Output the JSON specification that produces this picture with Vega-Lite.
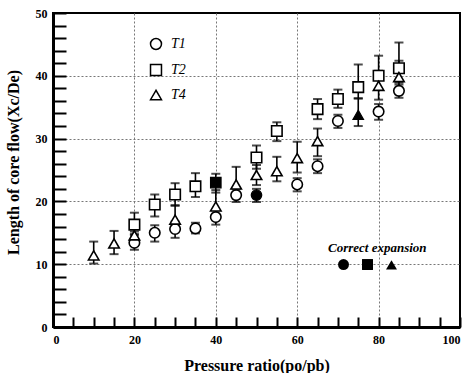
{
  "$schema": "https://vega.github.io/schema/vega-lite/v6.json",
  "autosize": "none",
  "width": 407,
  "height": 314,
  "padding": {"left": 53, "top": 13, "right": 7, "bottom": 46},
  "background": "white",
  "config": {
    "view": {"stroke": "black", "strokeWidth": 2},
    "font": "Liberation Serif",
    "axis": {
      "labelFont": "Liberation Serif",
      "labelFontWeight": "bold",
      "labelFontSize": 12,
      "labelColor": "black",
      "titleFont": "Liberation Serif",
      "titleFontWeight": "bold",
      "titleFontSize": 16,
      "titleColor": "black",
      "domainColor": "black",
      "domainWidth": 3,
      "tickColor": "black",
      "tickWidth": 2,
      "gridColor": "#777",
      "gridDash": [2, 2],
      "gridWidth": 1
    }
  },
  "data": {
    "values": [
      {"p": 20, "s": "T1", "L": 13.4, "lo": 12.3, "hi": 14.6, "correct": false},
      {"p": 25, "s": "T1", "L": 15.0, "lo": 13.6, "hi": 16.2, "correct": false},
      {"p": 30, "s": "T1", "L": 15.6, "lo": 14.2, "hi": 16.8, "correct": false},
      {"p": 35, "s": "T1", "L": 15.7, "lo": 14.9, "hi": 16.6, "correct": false},
      {"p": 40, "s": "T1", "L": 17.5, "lo": 16.3, "hi": 18.6, "correct": false},
      {"p": 45, "s": "T1", "L": 21.0, "lo": 19.9, "hi": 22.0, "correct": false},
      {"p": 50, "s": "T1", "L": 21.0, "lo": 19.9, "hi": 22.0, "correct": true},
      {"p": 60, "s": "T1", "L": 22.7, "lo": 21.6, "hi": 23.7, "correct": false},
      {"p": 65, "s": "T1", "L": 25.6, "lo": 24.5, "hi": 26.7, "correct": false},
      {"p": 70, "s": "T1", "L": 32.8, "lo": 31.7, "hi": 33.8, "correct": false},
      {"p": 80, "s": "T1", "L": 34.3, "lo": 33.0, "hi": 35.5, "correct": false},
      {"p": 85, "s": "T1", "L": 37.6, "lo": 36.5, "hi": 38.6, "correct": false},
      {"p": 20, "s": "T2", "L": 16.3, "lo": 14.8, "hi": 18.2, "correct": false},
      {"p": 25, "s": "T2", "L": 19.5, "lo": 17.6, "hi": 21.1, "correct": false},
      {"p": 30, "s": "T2", "L": 21.1, "lo": 19.3, "hi": 22.9, "correct": false},
      {"p": 35, "s": "T2", "L": 22.4, "lo": 20.7, "hi": 24.5, "correct": false},
      {"p": 40, "s": "T2", "L": 23.0, "lo": 21.4, "hi": 24.4, "correct": true},
      {"p": 50, "s": "T2", "L": 27.0, "lo": 25.2, "hi": 28.9, "correct": false},
      {"p": 55, "s": "T2", "L": 31.2, "lo": 29.6, "hi": 32.6, "correct": false},
      {"p": 65, "s": "T2", "L": 34.7, "lo": 33.1, "hi": 36.3, "correct": false},
      {"p": 70, "s": "T2", "L": 36.3, "lo": 34.9, "hi": 37.8, "correct": false},
      {"p": 75, "s": "T2", "L": 38.2, "lo": 36.4, "hi": 41.8, "correct": false},
      {"p": 80, "s": "T2", "L": 40.0, "lo": 37.8, "hi": 43.2, "correct": false},
      {"p": 85, "s": "T2", "L": 41.2, "lo": 38.9, "hi": 45.3, "correct": false},
      {"p": 10, "s": "T4", "L": 11.4, "lo": 10.1, "hi": 13.6, "correct": false},
      {"p": 15, "s": "T4", "L": 13.3, "lo": 11.6, "hi": 15.3, "correct": false},
      {"p": 20, "s": "T4", "L": 14.6, "lo": 14.0, "hi": 15.2, "correct": false},
      {"p": 30, "s": "T4", "L": 17.1, "lo": 15.5, "hi": 19.4, "correct": false},
      {"p": 40, "s": "T4", "L": 19.2, "lo": 17.5, "hi": 21.8, "correct": false},
      {"p": 45, "s": "T4", "L": 22.7, "lo": 20.8, "hi": 25.5, "correct": false},
      {"p": 50, "s": "T4", "L": 24.2, "lo": 22.6, "hi": 25.8, "correct": false},
      {"p": 55, "s": "T4", "L": 24.8, "lo": 23.2, "hi": 27.1, "correct": false},
      {"p": 60, "s": "T4", "L": 26.9, "lo": 24.6, "hi": 29.5, "correct": false},
      {"p": 65, "s": "T4", "L": 29.6, "lo": 27.2, "hi": 31.6, "correct": false},
      {"p": 75, "s": "T4", "L": 33.8, "lo": 32.0, "hi": 36.4, "correct": true},
      {"p": 80, "s": "T4", "L": 38.4, "lo": 36.2, "hi": 40.8, "correct": false},
      {"p": 85, "s": "T4", "L": 39.8, "lo": 37.8, "hi": 42.4, "correct": false}
    ]
  },
  "encoding": {
    "x": {
      "field": "p",
      "type": "quantitative",
      "scale": {"domain": [0, 100], "nice": false},
      "axis": {
        "orient": "bottom",
        "title": "Pressure ratio(po/pb)",
        "titlePadding": 12,
        "values": [0, 5, 10, 15, 20, 25, 30, 35, 40, 45, 50, 55, 60, 65, 70, 75, 80, 85, 90, 95, 100],
        "tickCount": 40,
        "labelExpr": "datum.value % 20 == 0 ? datum.label : ''",
        "labelOverlap": false,
        "labelFlush": true,
        "ticks": true,
        "tickSize": -10,
        "labelPadding": 17,
        "grid": true,
        "gridOpacity": {"condition": {"test": "datum.value % 20 == 0 && datum.value > 0 && datum.value < 100", "value": 1}, "value": 0}
      }
    }
  },
  "layer": [
    {
      "mark": {"type": "rule", "color": "black", "strokeWidth": 1.6},
      "encoding": {
        "y": {
          "field": "lo",
          "type": "quantitative",
          "scale": {"domain": [0, 50], "nice": false},
          "axis": {
            "orient": "left",
            "title": "Length of core flow(Xc/De)",
            "titleX": -32,
            "titleY": 149,
            "titleAngle": -90,
            "titleBaseline": "bottom",
            "titleAlign": "center",
            "values": [0, 2, 4, 6, 8, 10, 12, 14, 16, 18, 20, 22, 24, 26, 28, 30, 32, 34, 36, 38, 40, 42, 44, 46, 48, 50],
            "tickCount": 40,
            "labelExpr": "datum.value % 10 == 0 ? datum.label : ''",
            "labelOverlap": false,
            "labelFlush": false,
            "ticks": true,
            "tickSize": -13,
            "labelPadding": 19,
            "grid": true,
            "gridOpacity": {"condition": {"test": "datum.value % 10 == 0 && datum.value > 0 && datum.value < 50", "value": 1}, "value": 0}
          }
        },
        "y2": {"field": "hi"}
      }
    },
    {
      "mark": {"type": "tick", "orient": "horizontal", "color": "black", "size": 9, "thickness": 2},
      "encoding": {"y": {"field": "lo", "type": "quantitative"}}
    },
    {
      "mark": {"type": "tick", "orient": "horizontal", "color": "black", "size": 9, "thickness": 2},
      "encoding": {"y": {"field": "hi", "type": "quantitative"}}
    },
    {
      "transform": [{"filter": "!datum.correct"}],
      "mark": {"type": "point", "filled": true, "fill": "white", "stroke": "black", "strokeWidth": 1.6, "size": 110, "opacity": 1},
      "encoding": {
        "y": {"field": "L", "type": "quantitative"},
        "shape": {
          "field": "s",
          "type": "nominal",
          "scale": {"domain": ["T1", "T2", "T4"], "range": ["circle", "square", "triangle-up"]},
          "legend": {
            "title": null,
            "orient": "none",
            "legendX": 96,
            "legendY": 24,
            "padding": 0,
            "rowPadding": 8,
            "symbolSize": 120,
            "labelFont": "Liberation Serif",
            "labelFontStyle": "italic",
            "labelFontSize": 14,
            "labelColor": "black",
            "labelOffset": 8,
            "encode": {
              "symbols": {
                "update": {
                  "fill": {"value": "white"},
                  "stroke": {"value": "black"},
                  "strokeWidth": {"value": 1.5},
                  "opacity": {"value": 1}
                }
              }
            }
          }
        }
      }
    },
    {
      "transform": [{"filter": "datum.correct"}],
      "mark": {"type": "point", "filled": true, "fill": "black", "stroke": "black", "strokeWidth": 1.2, "size": 110, "opacity": 1},
      "encoding": {
        "y": {"field": "L", "type": "quantitative"},
        "shape": {
          "field": "s",
          "type": "nominal",
          "scale": {"domain": ["T1", "T2", "T4"], "range": ["circle", "square", "triangle-up"]},
          "legend": {
            "title": "Correct expansion",
            "orient": "none",
            "direction": "horizontal",
            "legendX": 275,
            "legendY": 229,
            "padding": 0,
            "titleFont": "Liberation Serif",
            "titleFontStyle": "italic",
            "titleFontWeight": "bold",
            "titleFontSize": 13,
            "titleColor": "black",
            "titlePadding": 3,
            "symbolSize": 120,
            "symbolFillColor": "black",
            "symbolStrokeColor": "black",
            "symbolOffset": 9,
            "labelExpr": "''",
            "labelOffset": 0,
            "columnPadding": 0
          }
        }
      }
    }
  ],
  "resolve": {"scale": {"shape": "independent"}, "legend": {"shape": "independent"}}
}
